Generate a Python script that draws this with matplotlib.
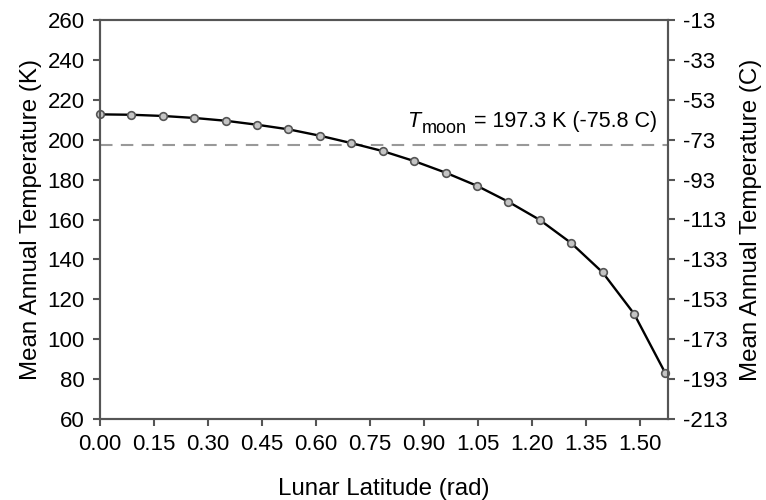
import numpy as np
import matplotlib
matplotlib.use("Agg")
import matplotlib.pyplot as plt
from matplotlib.transforms import offset_copy

plt.rcParams['font.family'] = ['Liberation Sans', 'DejaVu Sans']
plt.rcParams['axes.unicode_minus'] = False

# latitude in degrees, 5 degree steps, converted to rad
lat_deg = [0, 5, 10, 15, 20, 25, 30, 35, 40, 45, 50, 55, 60, 65, 70, 75, 80, 85, 90]
temp_k = [212.7, 212.5, 211.9, 210.9, 209.5, 207.5, 205.2, 202.0, 198.3, 194.3,
          189.3, 183.5, 176.9, 168.9, 159.8, 148.2, 133.5, 112.8, 82.9]
t_moon = 197.3
xticks = [0.00, 0.15, 0.30, 0.45, 0.60, 0.75, 0.90, 1.05, 1.20, 1.35, 1.50]
yticks_k = [60, 80, 100, 120, 140, 160, 180, 200, 220, 240, 260]

lat = np.radians(lat_deg)

fig = plt.figure(figsize=(7.66, 5.0), dpi=100)
ax = fig.add_axes([100/766, 81/500, 568/766, 399/500])

spine_c = '#555555'
ax.axhline(t_moon, color='#999999', lw=1.5, ls=(0, (6, 4)), zorder=1)
ax.plot(lat, temp_k, color='black', lw=1.7, marker='o', ms=5.5,
        mfc='#c4c4c4', mec='#555555', mew=1.2, zorder=3, clip_on=False)

ax.set_xlim(0, 1.578)
ax.set_ylim(60, 260)
ax.set_xticks(xticks)
ax.set_xticklabels(['%.2f' % v for v in xticks])
ax.set_yticks(yticks_k)

for s in ax.spines.values():
    s.set_color(spine_c)
    s.set_linewidth(1.5)
ax.tick_params(direction='out', length=5, width=1.5, color=spine_c,
               labelsize=16, pad=6)

ax.set_xlabel('Lunar Latitude (rad)', fontsize=17.4, labelpad=16)
ax.set_ylabel('Mean Annual Temperature (K)', fontsize=17.4, labelpad=4)

ax2 = ax.twinx()
ax2.set_ylim(60 - 273, 260 - 273)
ax2.set_yticks([v - 273 for v in yticks_k])
ax2.tick_params(direction='out', length=5, width=1.5, color=spine_c,
                labelsize=16, pad=6)
for s in ax2.spines.values():
    s.set_color(spine_c)
    s.set_linewidth(1.5)
ax2.set_ylabel('Mean Annual Temperature (C)', fontsize=17.4, labelpad=9)

# T_moon label built from pieces so the subscript stays large
fig.canvas.draw()
r = fig.canvas.get_renderer()
x0, y0 = 0.854, 206.4
t1 = ax.text(x0, y0, 'T', fontsize=15.5, style='italic', va='baseline')
w1 = t1.get_window_extent(r).width
tr = offset_copy(ax.transData, fig=fig, x=w1 + 1, y=-6, units='dots')
t2 = ax.text(x0, y0, 'moon', fontsize=13, va='baseline', transform=tr)
w2 = t2.get_window_extent(r).width
tr3 = offset_copy(ax.transData, fig=fig, x=w1 + w2 + 2, y=0, units='dots')
ax.text(x0, y0, ' = 197.3 K (-75.8 C)', fontsize=15.5, va='baseline', transform=tr3)

fig.savefig('out.png', dpi=100)
